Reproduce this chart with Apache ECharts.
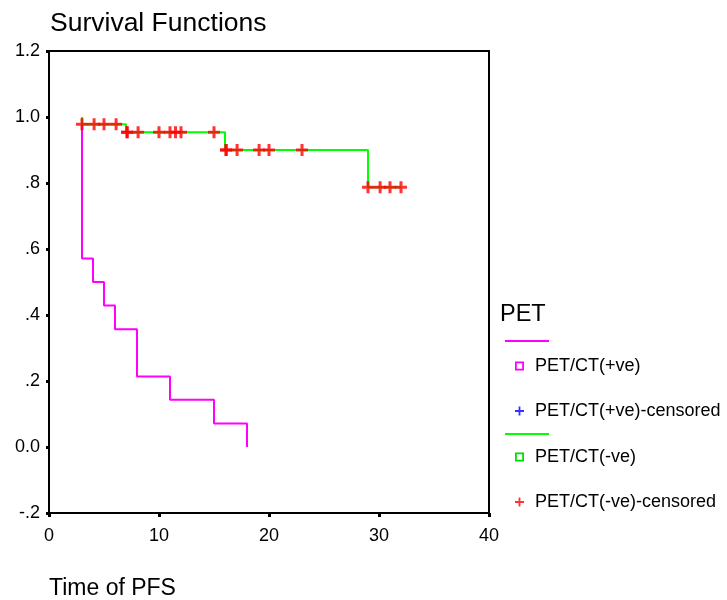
<!DOCTYPE html>
<html>
<head>
<meta charset="utf-8">
<script src="https://cdn.jsdelivr.net/npm/echarts@6/dist/echarts.min.js"></script>
<style>html,body{margin:0;padding:0;background:#fff}#c{width:727px;height:600px}</style>
</head>
<body>
<div id="c"></div>
<script>
// Kaplan-Meier step points [time, survival]
const posTimes = [3, 3, 4, 5, 6, 8, 11, 15, 18];
const posSurv  = [1.0, 0.571, 0.5, 0.429, 0.357, 0.214, 0.143, 0.071, 0.0];
const negTimes = [3, 3, 7, 16, 29, 32];
const negSurv  = [1.0, 0.978, 0.954, 0.900, 0.787, 0.787];
// censored observations of PET/CT(-ve)
const negCensTimes = [3, 4.1, 5, 6.1, 7.1, 7.1, 8.1, 10, 11, 11.5, 12, 15, 16.1, 16.1, 17.1, 19.1, 20, 23, 29, 30.1, 31, 32];
const negCensSurv  = [0.978, 0.978, 0.978, 0.978, 0.954, 0.954, 0.954, 0.954, 0.954, 0.954, 0.954, 0.954, 0.900, 0.900, 0.900, 0.900, 0.900, 0.900, 0.787, 0.787, 0.787, 0.787];
const posCensTimes = [];
const posCensSurv = [];
const xTicks = [0, 10, 20, 30, 40];
const yTickLabels = {'-0.2': '-.2', '0': '0.0', '0.2': '.2', '0.4': '.4', '0.6': '.6', '0.8': '.8', '1': '1.0', '1.2': '1.2'};
const legendNames = ['PET/CT(+ve)', 'PET/CT(+ve)-censored', 'PET/CT(-ve)', 'PET/CT(-ve)-censored'];

const zip = (a, b) => a.map((v, i) => [v, b[i]]);
const FONT = 'Liberation Sans, Arial, sans-serif';
const plus = 'path://M4.5,0H7.5V4.5H12V7.5H7.5V12H4.5V7.5H0V4.5H4.5Z';
const plusLeg = 'path://M4,0H6V4H10V6H6V10H4V6H0V4H4Z';
const hollowSq = 'path://M0,0H10V10H0Z M2,2V8H8V2Z';

const chart = echarts.init(document.getElementById('c'), null, {renderer: 'canvas'});
chart.setOption({
  animation: false,
  backgroundColor: '#fff',
  textStyle: {fontFamily: FONT},
  title: {
    text: 'Survival Functions', left: 45, top: 5,
    textStyle: {fontSize: 26.5, fontWeight: 'normal', color: '#000', fontFamily: FONT}
  },
  grid: {left: 49, top: 51, width: 440, height: 462, show: true, borderColor: '#000', borderWidth: 2, backgroundColor: 'transparent', containLabel: false},
  xAxis: {
    type: 'value', min: 0, max: 40, interval: 10,
    axisLine: {show: true, onZero: false, lineStyle: {color: '#000', width: 2}},
    axisTick: {show: true, length: 4, lineStyle: {color: '#000', width: 3}},
    axisLabel: {color: '#000', fontSize: 18, margin: 14, fontFamily: FONT,
      formatter: v => xTicks.includes(v) ? String(v) : ''},
    splitLine: {show: false}
  },
  yAxis: {
    type: 'value', min: -0.2, max: 1.2, interval: 0.2,
    axisLine: {show: true, onZero: false, lineStyle: {color: '#000', width: 2}},
    axisTick: {show: true, length: 3, lineStyle: {color: '#000', width: 3}},
    axisLabel: {color: '#000', fontSize: 18, margin: 9, fontFamily: FONT,
      formatter: v => yTickLabels[String(Math.round(v * 10) / 10)] || ''},
    splitLine: {show: false}
  },
  legend: [
    {
      orient: 'vertical', left: 510, top: 352, itemGap: 27, itemWidth: 9, itemHeight: 9,
      textStyle: {fontSize: 18, color: '#000', fontFamily: FONT, padding: [0, 0, 0, 6]},
      data: [
        {name: legendNames[0], icon: hollowSq, itemStyle: {color: '#ff00ff'}},
        {name: legendNames[1], icon: plusLeg, itemStyle: {color: '#0000ff'}}
      ],
      selectedMode: false
    },
    {
      orient: 'vertical', left: 510, top: 443, itemGap: 27, itemWidth: 9, itemHeight: 9,
      textStyle: {fontSize: 18, color: '#000', fontFamily: FONT, padding: [0, 0, 0, 6]},
      data: [
        {name: legendNames[2], icon: hollowSq, itemStyle: {color: '#00e000'}},
        {name: legendNames[3], icon: plusLeg, itemStyle: {color: '#ff0000'}}
      ],
      selectedMode: false
    }
  ],
  graphic: [
    {type: 'text', left: 500, top: 303, style: {text: 'PET', fontSize: 23.5, fill: '#000', fontFamily: FONT}},
    {type: 'line', shape: {x1: 505, y1: 341, x2: 549, y2: 341}, style: {stroke: '#ff00ff', lineWidth: 2}},
    {type: 'line', shape: {x1: 505, y1: 434, x2: 549, y2: 434}, style: {stroke: '#00ff00', lineWidth: 2}},
    {type: 'text', left: 49, top: 577, style: {text: 'Time of PFS', fontSize: 23, fill: '#000', fontFamily: FONT}}
  ],
  series: [
    {name: legendNames[0], type: 'line', step: 'end', data: zip(posTimes, posSurv), showSymbol: false, symbol: 'none',
      lineStyle: {color: '#ff00ff', width: 2}, itemStyle: {color: '#ff00ff'}, z: 2},
    {name: legendNames[1], type: 'scatter', data: zip(posCensTimes, posCensSurv), symbol: plus, symbolSize: 12, itemStyle: {color: '#0000ff'}, z: 4},
    {name: legendNames[2], type: 'line', step: 'end', data: zip(negTimes, negSurv), showSymbol: false, symbol: 'none',
      lineStyle: {color: '#00ff00', width: 2}, itemStyle: {color: '#00ff00'}, z: 3},
    {name: legendNames[3], type: 'scatter', data: zip(negCensTimes, negCensSurv), symbol: plus, symbolSize: 12, itemStyle: {color: '#ff0000'}, z: 4}
  ]
});
</script>
</body>
</html>
